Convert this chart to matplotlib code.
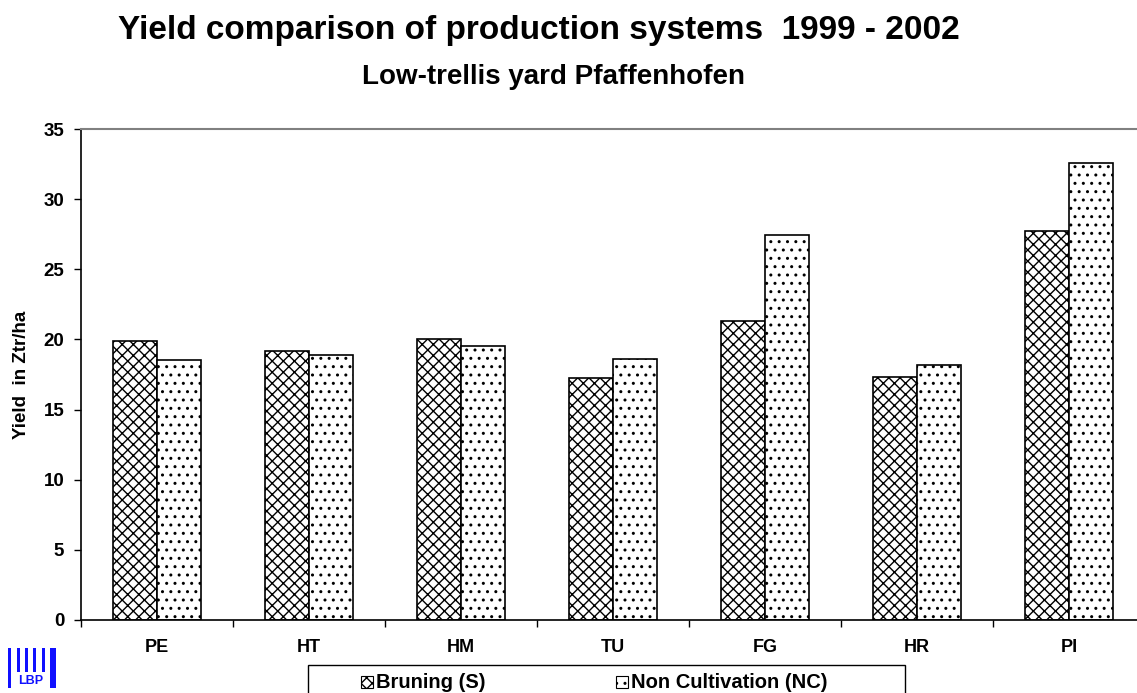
import matplotlib
matplotlib.use("Agg")
import matplotlib.pyplot as plt
import numpy as np
from matplotlib.patches import Rectangle

plt.rcParams['font.family'] = ['Liberation Sans', 'DejaVu Sans']
plt.rcParams['font.weight'] = 'bold'
plt.rcParams['hatch.linewidth'] = 1.0

categories = ["PE", "HT", "HM", "TU", "FG", "HR", "PI"]
bruning = [19.9, 19.15, 20.0, 17.25, 21.3, 17.35, 27.7]
non_cultivation = [18.55, 18.9, 19.5, 18.6, 27.45, 18.2, 32.6]
series_labels = ["Bruning (S)", "Non Cultivation (NC)"]
series_hatches = ['xxx', '..']
yticks = [0, 5, 10, 15, 20, 25, 30, 35]

W, H = 1137, 693
fig = plt.figure(figsize=(W / 100, H / 100), dpi=100)
ax = fig.add_axes([81 / W, 1 - 620 / H, 1064 / W, 491 / H])

x = np.arange(len(categories))
bw = 0.287
ax.bar(x - bw / 2, bruning, width=bw, facecolor='white', edgecolor='black',
       linewidth=1.2, hatch=series_hatches[0])
ax.bar(x + bw / 2, non_cultivation, width=bw, facecolor='white', edgecolor='black',
       linewidth=1.2, hatch=series_hatches[1])

ax.set_xlim(-0.5, len(categories) - 0.5)
ax.set_ylim(0, 35)
ax.set_yticks(yticks)
ax.set_yticklabels([str(v) for v in yticks], fontsize=13.5, fontweight='bold')
ax.set_xticks(x)
ax.set_xticklabels(categories, fontsize=13, fontweight='bold')
ax.set_xticks(np.arange(len(categories) + 1) - 0.5, minor=True)
ax.tick_params(axis='x', which='major', length=0, pad=14)
ax.tick_params(axis='x', which='minor', length=5, width=1, direction='out')
ax.tick_params(axis='y', length=5, width=1, direction='out', pad=7)

ax.spines['right'].set_visible(False)
ax.spines['top'].set_color('#808080')
ax.spines['top'].set_linewidth(1.5)
ax.spines['left'].set_linewidth(1.2)
ax.spines['bottom'].set_linewidth(1.2)

ax.set_ylabel("Yield  in Ztr/ha", fontsize=13.5, fontweight='bold', labelpad=10)

fig.text(539 / W, 1 - 30 / H, "Yield comparison of production systems  1999 - 2002",
         ha='center', va='center', fontsize=24, fontweight='bold')
fig.text(553 / W, 1 - 77 / H, "Low-trellis yard Pfaffenhofen",
         ha='center', va='center', fontsize=20, fontweight='bold')

# Legend box below the axis
fig.add_artist(Rectangle((308 / W, 1 - 700 / H), (905 - 308) / W, 35 / H,
                         facecolor='white', edgecolor='black', linewidth=1.0,
                         transform=fig.transFigure))
for hx, tx, lab, hat in [(361, 376, series_labels[0], series_hatches[0]),
                         (616, 631, series_labels[1], series_hatches[1])]:
    fig.add_artist(Rectangle((hx / W, 1 - 688 / H), 12 / W, 12 / H,
                             facecolor='white', edgecolor='black', linewidth=0.8,
                             hatch=hat, transform=fig.transFigure))
    fig.text(tx / W, 1 - 682 / H, lab, ha='left', va='center',
             fontsize=14.5, fontweight='bold')

# LBP logo
blue = '#1010ff'
for xl in [8, 17, 25, 33, 42]:
    top, bot = 648, (688 if xl == 8 else 672)
    fig.add_artist(Rectangle((xl / W, 1 - bot / H), 2.5 / W, (bot - top) / H,
                             facecolor=blue, edgecolor='none', transform=fig.transFigure))
fig.add_artist(Rectangle((50 / W, 1 - 688 / H), 6 / W, 40 / H,
                         facecolor=blue, edgecolor='none', transform=fig.transFigure))
fig.text(31 / W, 1 - 681 / H, "LBP", ha='center', va='center', color=blue,
         fontsize=9, fontweight='bold')

fig.savefig("out.png", dpi=100)
